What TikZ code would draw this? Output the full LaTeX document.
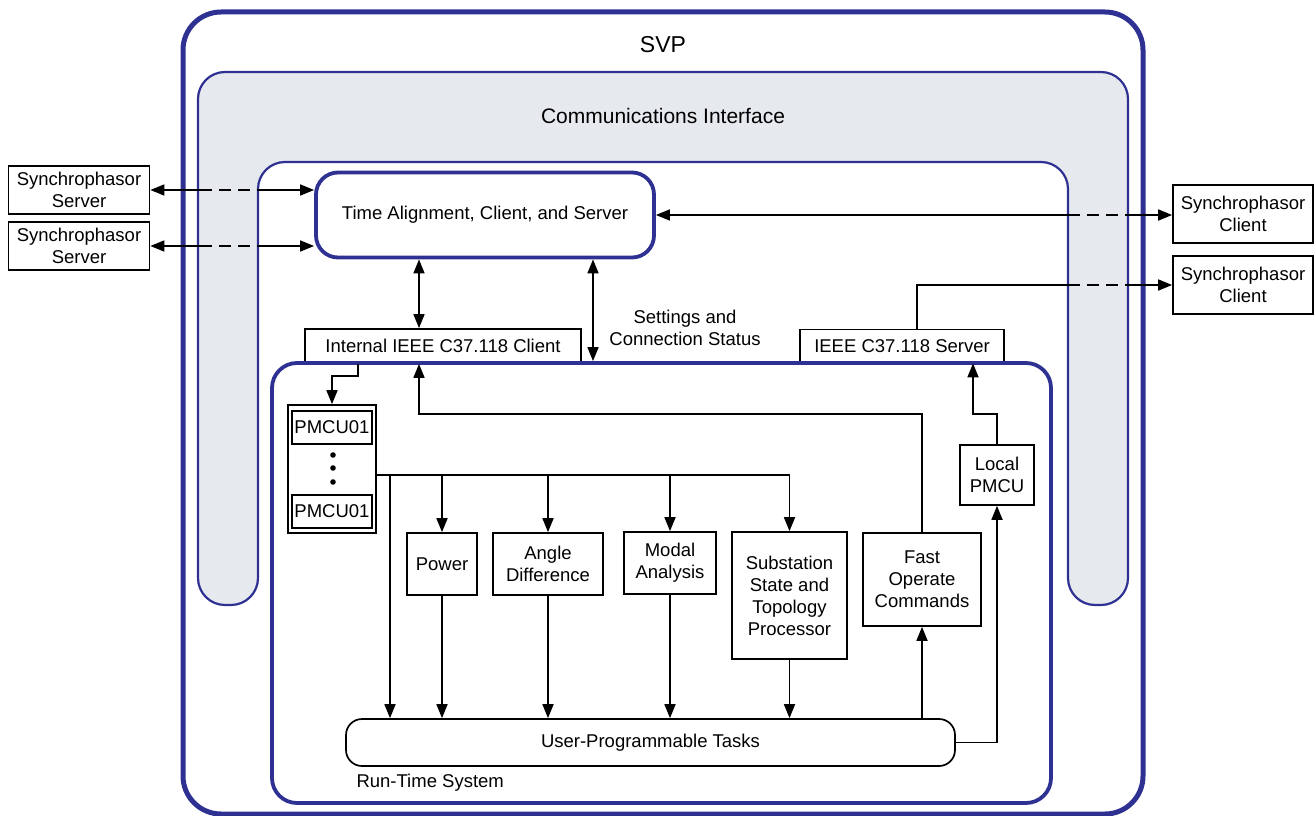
\documentclass[tikz,border=0pt]{standalone}
\usepackage{fontspec}
\setmainfont{Liberation Sans}
\usetikzlibrary{arrows.meta}
\definecolor{svpblue}{RGB}{46,49,146}
\definecolor{commgray}{RGB}{230,233,238}
\tikzset{
  blk/.style={draw, line width=1.7pt, fill=white, inner sep=0pt, align=center},
  arr/.style={line width=1.7pt, -{Triangle[length=14pt,width=11pt]}},
  darr/.style={line width=1.7pt, {Triangle[length=14pt,width=11pt]}-{Triangle[length=14pt,width=11pt]}},
  dsh/.style={line width=1.7pt, dash pattern=on 12pt off 7pt},
}
\begin{document}
\begin{tikzpicture}[x=1pt, y=-1pt, font=\fontsize{18.5}{22}\selectfont]
  \useasboundingbox (0,0) rectangle (1314,816);
  % SVP and communications interface
  \draw[svpblue, line width=5pt, rounded corners=38pt] (183,12) rectangle (1143,814);
  \node (svp) at (663,45) {\fontsize{23}{26}\selectfont SVP};
  \draw[svpblue, line width=2.2pt, fill=commgray, rounded corners=27pt] (663,72) -- (1128,72) -- (1128,605) -- (1068,605)
    -- (1068,162) -- (258,162) -- (258,605) -- (198,605) -- (198,72) -- cycle;
  \node (com) at (663,116) {\fontsize{21}{24}\selectfont Communications Interface};
  % IEEE C37.118 client and server
  \node[blk, minimum width=276pt, minimum height=34pt] (icl) at (443,346) {Internal IEEE C37.118 Client};
  \node[blk, minimum width=204pt, minimum height=33pt] (srv) at (902,346) {IEEE C37.118 Server};
  \node[draw=svpblue, line width=3.8pt, rounded corners=25pt, minimum width=779pt, minimum height=440pt] (rts) at (661.5,583) {};
  \node[anchor=west] (rtl) at (353,783) {Run-Time System};
  \node[blk, draw=svpblue, line width=3.8pt, rounded corners=22pt, minimum width=338pt, minimum height=85pt] (tas) at (485,215)
    {Time Alignment, Client, and Server};
  % outside devices
  \node[blk, minimum width=141pt, minimum height=48pt] (srvA) at (79,190) {Synchrophasor\\Server};
  \node[blk, minimum width=141pt, minimum height=48pt] (srvB) at (79,246) {Synchrophasor\\Server};
  \node[blk, minimum width=140pt, minimum height=58pt] (cliA) at (1243,214) {Synchrophasor\\Client};
  \node[blk, minimum width=140pt, minimum height=58pt] (cliB) at (1243,285) {Synchrophasor\\Client};
  \coordinate (legLa) at (200,0); \coordinate (legLb) at (257,0);
  \coordinate (legRa) at (1068,0); \coordinate (legRb) at (1126,0);
  \foreach \s in {srvA,srvB} {
    \draw[arr] (legLa |- \s.east) -- (\s.east);
    \draw[dsh] (legLa |- \s.east) -- (legLb |- \s.east);
    \draw[arr] (legLb |- \s.east) -- (tas.west |- \s.east);
  }
  \draw[arr] (legRa |- tas.east) -- (tas.east);
  \draw[dsh] (legRa |- tas.east) -- (legRb |- tas.east);
  \draw[arr] (legRb |- tas.east) -- (cliA.west |- tas.east);
  \draw[line width=1.7pt] ([xshift=15pt]srv.north) |- (legRa |- cliB.west);
  \draw[dsh] (legRa |- cliB.west) -- (legRb |- cliB.west);
  \draw[arr] (legRb |- cliB.west) -- (cliB.west);
  \draw[darr] ([xshift=-66pt]tas.south) -- ([xshift=-24pt]icl.north);
  \draw[darr] ([xshift=108pt]tas.south) -- ([xshift=108pt]tas.south |- rts.north);
  \node[align=center] (set) at (685,328) {Settings and\\Connection Status};
  % PMCU stack
  \node[blk, minimum width=88pt, minimum height=128pt] (pstk) at (332,469) {};
  \node[blk, minimum width=80pt, minimum height=33pt] (pmA) at (332,427.5) {PMCU01};
  \node[blk, minimum width=80pt, minimum height=33pt] (pmB) at (332,511.5) {PMCU01};
  \foreach \y in {455,468,482}
    \fill (333,\y) circle (2.8pt);
  \draw[arr] ([xshift=-85pt]icl.south) -- ++(0,12) -| (pstk.north);
  % run-time tasks
  \node[blk, minimum width=70pt, minimum height=62pt] (pow) at (442,564) {Power};
  \node[blk, minimum width=110pt, minimum height=62pt] (ang) at (548,564) {Angle\\Difference};
  \node[blk, minimum width=92pt, minimum height=62pt] (mod) at (670,563) {Modal\\Analysis};
  \node[blk, minimum width=115pt, minimum height=127pt] (sub) at (789.5,595.5) {Substation\\State and\\Topology\\Processor};
  \node[blk, minimum width=118pt, minimum height=93pt] (fst) at (922,579.5) {Fast\\Operate\\Commands};
  \node[blk, minimum width=74pt, minimum height=60pt] (lpm) at (997,475) {Local\\PMCU};
  \node[blk, rounded corners=16pt, minimum width=609pt, minimum height=47pt] (upt) at (650.5,742.5) {User-Programmable Tasks};
  \coordinate (bus) at (376,475);
  \coordinate (drop) at (390,475);
  \draw[line width=1.7pt] (bus) -- (bus -| sub.north);
  \draw[arr] (drop) -- (drop |- upt.north);
  \foreach \b in {pow,ang,mod,sub} {
    \draw[arr] (bus -| \b.north) -- (\b.north);
    \draw[arr] (\b.south) -- (\b.south |- upt.north);
  }
  \draw[arr] (upt.north -| fst.south) -- (fst.south);
  \draw[arr] (upt.east) -| (lpm.south);
  \draw[arr] (lpm.north) -- ++(0,-30) -| ([xshift=71pt]srv.south);
  \draw[arr] (fst.north) -- ++(0,-118) -| ([xshift=-24pt]icl.south);
\end{tikzpicture}
\end{document}
